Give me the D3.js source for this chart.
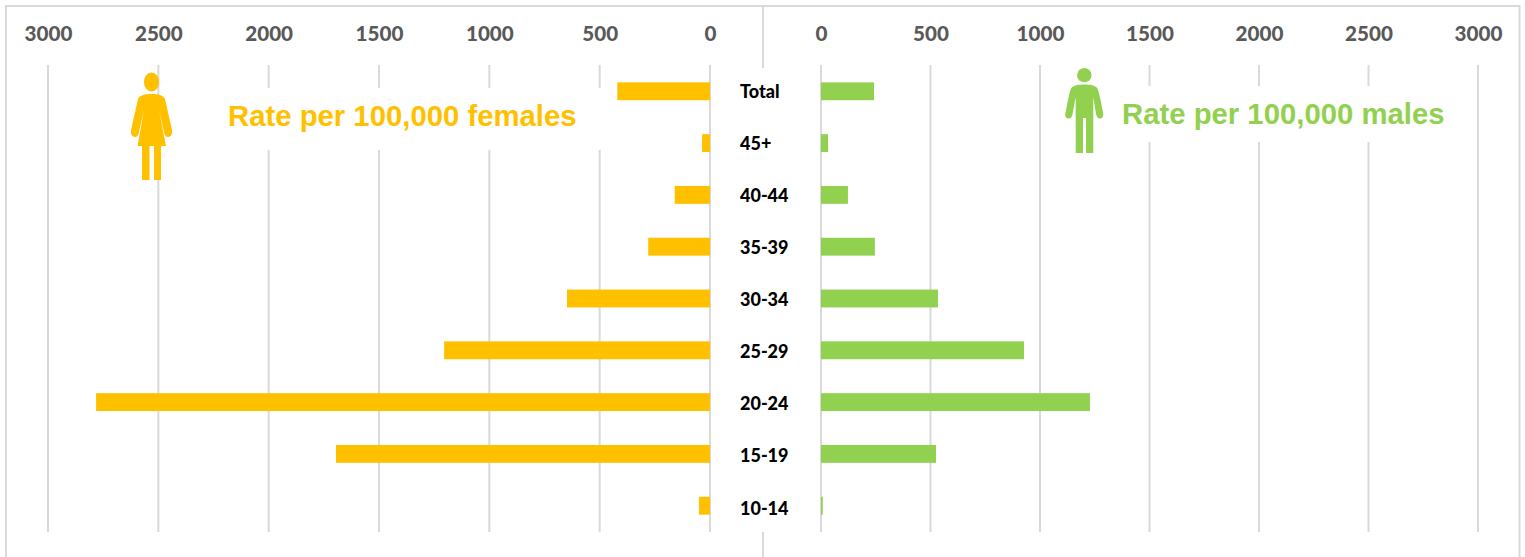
<!DOCTYPE html>
<html>
<head>
<meta charset="utf-8">
<script src="https://cdnjs.cloudflare.com/ajax/libs/d3/7.8.5/d3.min.js"></script>
<style>
  html, body { margin: 0; padding: 0; background: #fff; overflow: hidden; }
  svg { display: block; }
  .tick-label { font: 900 20.6px Lato, "Open Sans", sans-serif; fill: #595959; }
  .age-label { font: 900 18px Lato, "Open Sans", sans-serif; fill: #000; }
  .rate-title { font: 700 29.300px "Liberation Sans", Arial, sans-serif; }
</style>
</head>
<body>
<svg id="chart" width="1525" height="557"></svg>
<script>
// Rates per 100,000 by age group, listed from the top row down
const ageGroups = ["Total", "45+", "40-44", "35-39", "30-34", "25-29", "20-24", "15-19", "10-14"];
const femaleRates = [420, 36, 160, 280, 648, 1205, 2782, 1695, 50];
const maleRates = [242, 32, 123, 246, 534, 927, 1228, 525, 8];
const axisTicks = [0, 500, 1000, 1500, 2000, 2500, 3000];

const femaleColor = "#ffc000";
const maleColor = "#92d050";
const gridColor = "#d9d9d9";

const svg = d3.select("#chart");

const xFemale = d3.scaleLinear().domain([0, 3000]).range([710, 48]);
const xMale = d3.scaleLinear().domain([0, 3000]).range([821, 1478]);
const y = d3.scaleBand().domain(ageGroups).range([65, 532]).paddingInner(0.655).paddingOuter(0.335);

// Outer frame and the centre divider
svg.append("path")
  .attr("d", "M6 557V6H1519.5V557")
  .attr("fill", "none").attr("stroke", gridColor).attr("stroke-width", 2);
svg.selectAll(".divider").data([[6, 68], [532, 557]]).join("line")
  .attr("x1", 763).attr("x2", 763)
  .attr("y1", d => d[0]).attr("y2", d => d[1])
  .attr("stroke", gridColor).attr("stroke-width", 2);

// Gridlines for both halves; each group is interrupted behind its title
function grid(scale, gapTicks, gap) {
  const g = svg.append("g");
  axisTicks.forEach(t => {
    const spans = gapTicks.includes(t) ? [[65, gap[0]], [gap[1], 532]] : [[65, 532]];
    spans.forEach(s => {
      g.append("line")
        .attr("x1", scale(t)).attr("x2", scale(t))
        .attr("y1", s[0]).attr("y2", s[1])
        .attr("stroke", gridColor).attr("stroke-width", 2);
    });
  });
}
grid(xFemale, [2000, 1500, 1000, 500], [88, 150]);
grid(xMale, [1500, 2000, 2500], [86, 142]);

// Bars
function bars(values, scale, color, leftward) {
  svg.append("g").selectAll("rect").data(values).join("rect")
    .attr("x", d => leftward ? scale(d) : scale(0))
    .attr("y", (d, i) => y(ageGroups[i]))
    .attr("width", d => Math.abs(scale(d) - scale(0)))
    .attr("height", y.bandwidth())
    .attr("fill", color);
}
bars(femaleRates, xFemale, femaleColor, true);
bars(maleRates, xMale, maleColor, false);

// Value axes along the top
function topAxis(scale) {
  const g = svg.append("g").attr("transform", "translate(0,41)")
    .call(d3.axisTop(scale).tickValues(axisTicks).tickSize(0).tickPadding(0).tickFormat(d3.format("d")));
  g.select(".domain").remove();
  g.selectAll("text").attr("class", "tick-label");
}
topAxis(xFemale);
topAxis(xMale);

// Age labels in the central gutter, left aligned
svg.append("g").selectAll("text").data(ageGroups).join("text")
  .attr("class", "age-label")
  .attr("x", 740)
  .attr("y", (d, i) => y(d) + y.bandwidth() / 2 + i * 0.25 + 6.8)
  .text(d => d);

// Titles
svg.append("text").attr("class", "rate-title").attr("x", 228).attr("y", 126)
  .attr("fill", femaleColor).text("Rate per 100,000 females");
svg.append("text").attr("class", "rate-title").attr("x", 1122).attr("y", 124)
  .attr("fill", maleColor).text("Rate per 100,000 males");

// Person silhouettes
const woman = svg.append("g").attr("fill", femaleColor);
woman.append("ellipse").attr("cx", 151.5).attr("cy", 82).attr("rx", 7.6).attr("ry", 9.6);
woman.append("path").attr("d",
  "M151.5 94C158 94 163 95 165 99L172 130Q172.6 137 168 137Q165 137 164.3 133L159 110L166 146H161V180H154V146H149.500V180H142V146H137.500L144 110L138.700 133Q138 137 135 137Q130.400 137 131 130L138 99C140 95 145 94 151.500 94Z");

const man = svg.append("g").attr("fill", maleColor);
man.append("circle").attr("cx", 1084.3).attr("cy", 75.200).attr("r", 7.2);
man.append("path").attr("d",
  "M1084.300 84.500C1090 84.500 1095 85 1097.500 88.500C1099 91 1103.300 113 1103.300 114Q1103.300 118.500 1100 118.500Q1097 118.500 1096 114L1093.300 97V153H1086V118H1083V153H1075.700V97L1072.600 114Q1071.800 118.500 1068.500 118.500Q1065 118.500 1065.300 114C1065.500 113 1069.500 91 1071 88.500C1073.500 85 1078.500 84.500 1084.300 84.500Z");
</script>
</body>
</html>
